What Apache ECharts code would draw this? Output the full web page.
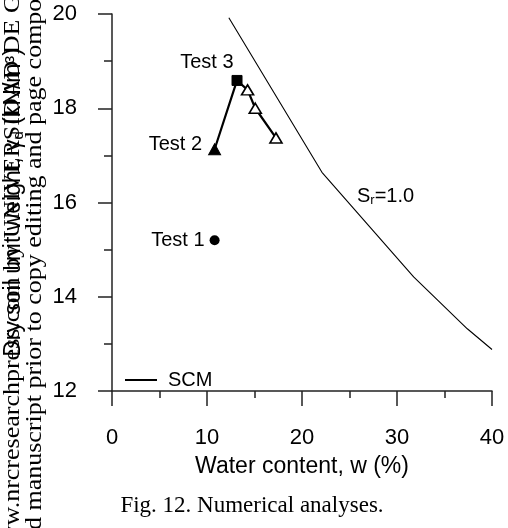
<!DOCTYPE html>
<html>
<head>
<meta charset="utf-8">
<title>Fig. 12. Numerical analyses.</title>
<script src="https://cdn.jsdelivr.net/npm/echarts@6/dist/echarts.min.js"></script>
<style>
  html, body { margin: 0; padding: 0; background: #fff; }
  #chart { width: 508px; height: 528px; }
</style>
</head>
<body>
<div id="chart"></div>
<script>
// Saturation line Sr = 1.0 (SCM)
const scmWater = [12.3, 22.1, 31.75, 37.4, 40.0];
const scmGamma = [19.92, 16.64, 14.42, 13.32, 12.88];

// Test 1: single state
const test1Water = [10.8];
const test1Gamma = [15.2];

// Tests 2 and 3: path from Test 2 through Test 3 to the following states
const pathWater = [10.8, 13.16, 14.27, 15.08, 17.26];
const pathGamma = [17.13, 18.59, 18.39, 18.0, 17.37];
const pathKind = ['test2', 'test3', 'open', 'open', 'open'];

// Position of the Sr = 1.0 annotation
const srLabelAt = [28.8, 16.13];

// Axis ranges
const xRange = [0, 40, 10];
const yRange = [12, 20, 2];

const sans = 'Liberation Sans';
const serif = 'Liberation Serif';

const zip = (a, b) => a.map((v, i) => [v, b[i]]);

const pathData = pathWater.map((w, i) => {
  const k = pathKind[i];
  const item = { value: [w, pathGamma[i]] };
  if (k === 'test2') {
    item.symbol = 'triangle';
    item.symbolSize = [12, 11];
    item.itemStyle = { color: '#000', borderColor: '#000', borderWidth: 1 };
    item.label = { show: true, formatter: 'Test 2', position: 'left', distance: 6, offset: [0, -5] };
  } else if (k === 'test3') {
    item.symbol = 'rect';
    item.symbolSize = 10;
    item.itemStyle = { color: '#000', borderColor: '#000', borderWidth: 1 };
    item.label = { show: true, formatter: 'Test 3', position: 'left', distance: 0, offset: [2, -18] };
  } else {
    item.symbol = 'triangle';
    item.symbolSize = [12, 10];
    item.itemStyle = { color: '#fff', borderColor: '#000', borderWidth: 1.6 };
  }
  return item;
});

const chart = echarts.init(document.getElementById('chart'), null, { renderer: 'canvas' });

chart.setOption({
  animation: false,
  backgroundColor: '#fff',
  textStyle: { fontFamily: sans, color: '#000' },
  grid: {
    left: 112, right: 16, top: 14, bottom: 137,
    containLabel: false,
    outerBoundsMode: 'none'
  },
  legend: {
    data: [{ name: 'SCM', icon: 'rect' }],
    left: 120,
    top: 365,
    itemWidth: 32,
    itemHeight: 2,
    itemStyle: { color: '#000', borderWidth: 0 },
    textStyle: { fontFamily: sans, fontSize: 20, color: '#000', padding: [0, 0, 0, 6] }
  },
  xAxis: {
    type: 'value',
    min: xRange[0], max: xRange[1], interval: xRange[2],
    name: 'Water content, w (%)',
    nameLocation: 'middle',
    nameGap: 64,
    nameTextStyle: { fontFamily: sans, fontSize: 23, color: '#000' },
    axisLine: { show: true, onZero: false, lineStyle: { color: '#222', width: 1.5 } },
    axisTick: { show: true, length: 15, lineStyle: { color: '#222', width: 1.5 } },
    minorTick: { show: true, splitNumber: 2, length: 7, lineStyle: { color: '#222', width: 1.5 } },
    axisLabel: { fontFamily: sans, fontSize: 22, color: '#000', margin: 36 },
    splitLine: { show: false },
    minorSplitLine: { show: false }
  },
  yAxis: {
    type: 'value',
    min: yRange[0], max: yRange[1], interval: yRange[2],
    name: 'Dry soil unit weight, γ{sub|d} (kN/m³)',
    nameLocation: 'middle',
    nameRotate: 90,
    nameGap: 86,
    nameTextStyle: {
      fontFamily: sans, fontSize: 23, color: '#000',
      rich: { sub: { fontFamily: sans, fontSize: 15, color: '#000', padding: [10, 0, 0, 0] } }
    },
    axisLine: { show: true, onZero: false, lineStyle: { color: '#222', width: 1.5 } },
    axisTick: { show: true, length: 14, lineStyle: { color: '#222', width: 1.5 } },
    minorTick: { show: true, splitNumber: 2, length: 8, lineStyle: { color: '#222', width: 1.5 } },
    axisLabel: { fontFamily: sans, fontSize: 22, color: '#000', margin: 35 },
    splitLine: { show: false },
    minorSplitLine: { show: false }
  },
  series: [
    {
      name: 'SCM',
      type: 'line',
      data: zip(scmWater, scmGamma),
      showSymbol: false,
      symbol: 'none',
      lineStyle: { color: '#000', width: 1.1 },
      itemStyle: { color: '#000' },
      z: 2
    },
    {
      name: 'Tests 2-3',
      type: 'line',
      data: pathData,
      lineStyle: { color: '#000', width: 2.2 },
      label: { fontFamily: sans, fontSize: 20, color: '#000' },
      z: 3
    },
    {
      name: 'Test 1',
      type: 'scatter',
      data: zip(test1Water, test1Gamma),
      symbol: 'circle',
      symbolSize: 10,
      itemStyle: { color: '#000', opacity: 1 },
      label: {
        show: true, formatter: 'Test 1', position: 'left', distance: 5,
        fontFamily: sans, fontSize: 20, color: '#000', opacity: 1
      },
      z: 3
    },
    {
      name: 'Sr label',
      type: 'scatter',
      data: [srLabelAt],
      symbolSize: 0,
      silent: true,
      itemStyle: { opacity: 1 },
      label: {
        show: true,
        position: 'inside',
        formatter: 'S{sub|r}=1.0',
        fontFamily: sans, fontSize: 20, color: '#000', opacity: 1,
        rich: { sub: { fontFamily: sans, fontSize: 13, color: '#000', padding: [9, 0, 0, 0] } }
      }
    }
  ],
  graphic: [
    {
      type: 'text',
      x: 252, y: 506,
      style: {
        text: 'Fig. 12. Numerical analyses.',
        fontFamily: serif, fontSize: 23, fill: '#000',
        textAlign: 'center', textVerticalAlign: 'middle'
      }
    },
    {
      type: 'text',
      x: 13, y: 563,
      rotation: Math.PI / 2,
      scaleY: 0.85,
      style: {
        text: 'www.nrcresearchpress.com by UNIVERSIDAD DE GRANADA',
        fontFamily: serif, fontSize: 26, fill: '#000',
        textAlign: 'left', textVerticalAlign: 'middle'
      }
    },
    {
      type: 'text',
      x: 35, y: 608,
      rotation: Math.PI / 2,
      scaleY: 0.85,
      style: {
        text: 'accepted manuscript prior to copy editing and page composition',
        fontFamily: serif, fontSize: 26, fill: '#000',
        textAlign: 'left', textVerticalAlign: 'middle'
      }
    }
  ]
});
</script>
</body>
</html>
